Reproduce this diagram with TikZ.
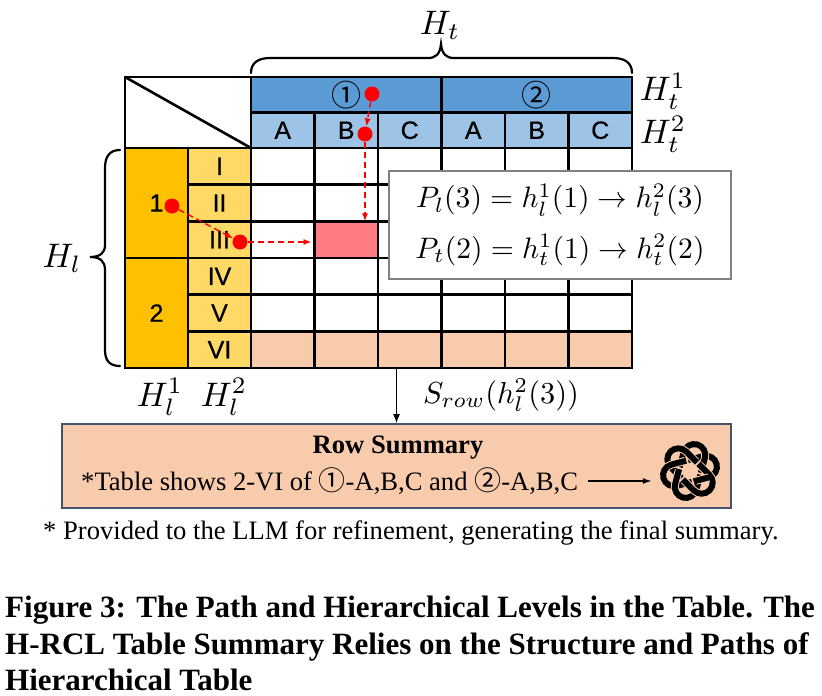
\documentclass[tikz,border=0pt]{standalone}
\usepackage{fontspec}
\setmainfont{Liberation Serif}
\newfontfamily\labfont[FakeBold=0.7]{Liberation Sans}
\newfontfamily\symfont{Noto Sans CJK SC}
\usetikzlibrary{arrows.meta}
\definecolor{hdA}{HTML}{5B9BD5}
\definecolor{hdB}{HTML}{9DC3E6}
\definecolor{lfA}{HTML}{FFC000}
\definecolor{lfB}{HTML}{FFD966}
\definecolor{rowp}{HTML}{F8CBAD}
\definecolor{pinkc}{HTML}{FF7C80}
\definecolor{boxedge}{HTML}{44546A}
\newcommand{\sz}[1]{\fontsize{#1}{#1}\selectfont}
\newcommand{\mth}[2]{\scalebox{#1}{$#2$}}
\tikzset{
  x=1pt,y=-1pt,
  cellbox/.style={draw=black,line width=2.4pt,inner sep=0pt,outer sep=0pt,font=\labfont\sz{25}},
  mathlab/.style={inner sep=0pt},
  reddot/.style={circle,fill=red,inner sep=0pt,minimum size=15pt},
  redarrow/.style={red,dash pattern=on 6pt off 4pt,line width=1.4pt,-{Latex[length=8pt,width=6pt]}},
  brace/.style={line width=2.2pt,line cap=round},
  captionline/.style={anchor=base west,inner sep=0pt,font=\sz{31}\bfseries},
}
\begin{document}
\begin{tikzpicture}
\useasboundingbox (0,0) rectangle (822,696);
% corner
\node[cellbox,minimum width=126pt,minimum height=71pt,fill=white] (corner) at (188,112.5) {};
\draw[line width=2.6pt] (corner.north west) -- (corner.south east);
% top headers
\node[cellbox,fill=hdA,minimum width=190.5pt,minimum height=35.5pt] (t1) at (346.25,94.75) {\symfont\sz{30}①};
\node[cellbox,fill=hdA,minimum width=190.5pt,minimum height=35.5pt] (t2) at (536.75,94.75) {\symfont\sz{30}②};
\foreach \c [count=\i] in {A,B,C,A,B,C}{
  \node[cellbox,fill=hdB,minimum width=63.5pt,minimum height=35.5pt] (s\i) at ({282.75+63.5*(\i-1)},130.25) {\c};
}
% left headers
\node[cellbox,fill=lfA,minimum width=63pt,minimum height=110pt] (l1) at (156.5,203) {1};
\node[cellbox,fill=lfA,minimum width=63pt,minimum height=110pt] (l2) at (156.5,313) {2};
\foreach \t [count=\i] in {I,II,III,IV,V,VI}{
  \node[cellbox,fill=lfB,minimum width=63pt,minimum height=36.67pt] (r\i) at (219.5,{148+36.67*(\i-0.5)}) {\t};
}
% body
\foreach \r in {1,...,6}{
  \foreach \c in {1,...,6}{
    \def\cf{white}
    \ifnum\r=6 \def\cf{rowp}\fi
    \ifnum\r=3 \ifnum\c=2 \def\cf{pinkc}\fi\fi
    \node[cellbox,fill=\cf,minimum width=63.5pt,minimum height=36.67pt] (c\c-\r) at ({282.75+63.5*(\c-1)},{148+36.67*(\r-0.5)}) {};
  }
}
% path box
\node[draw=black!50,line width=2.2pt,fill=white,minimum width=342pt,minimum height=108pt,inner sep=0pt] (paths) at (560,225) {};
\node[mathlab] (f1) at (560,200) {\mth{2.96}{P_l(3)=h_l^1(1)\rightarrow h_l^2(3)}};
\node[mathlab] (f2) at (560,250) {\mth{2.96}{P_t(2)=h_t^1(1)\rightarrow h_t^2(2)}};
% red paths
\node[reddot] (d1) at (372,94) {};
\node[reddot] (d2) at (365,134) {};
\node[reddot] (d3) at (172,206) {};
\node[reddot] (d4) at (240,242) {};
\draw[redarrow] (d1) -- (d2);
\draw[redarrow] (d2) -- (d2 |- c2-3.north);
\draw[redarrow] (d3) -- (d4);
\draw[redarrow] (d4) -- ([xshift=-3pt]c2-3.west |- d4);
% braces
\draw[brace] (251,73) .. controls (251,63) and (258,58) .. (270,58) -- (428,58) .. controls (436,58) and (440,54) .. (441,44) .. controls (442,54) and (446,58) .. (454,58) -- (613,58) .. controls (625,58) and (632,63) .. (632,73);
\draw[brace] (120,150) .. controls (110,150) and (105,156) .. (105,168) -- (105,245) .. controls (105,253) and (100,257) .. (90,257) .. controls (100,257) and (105,261) .. (105,270) -- (105,350) .. controls (105,361) and (110,366) .. (120,366);
% math labels
\node[mathlab] (Ht) at (440,25) {\mth{3.4}{H_t}};
\node[mathlab] (Ht1) at (663,91) {\mth{3.4}{H_t^1}};
\node[mathlab] (Ht2) at (663,134) {\mth{3.4}{H_t^2}};
\node[mathlab] (Hl) at (62,258) {\mth{3.4}{H_l}};
\node[mathlab] (Hl1) at (160,397) {\mth{3.4}{H_l^1}};
\node[mathlab] (Hl2) at (224,397) {\mth{3.4}{H_l^2}};
\node[mathlab] (Srow) at (501,395) {\mth{3.04}{S_{row}(h_l^2(3))}};
% summary
\node[draw=boxedge,line width=1.6pt,fill=rowp,minimum width=669pt,minimum height=84pt,inner sep=0pt] (summary) at (396.5,466) {};
\draw[line width=1.5pt,-{Latex[length=9pt,width=7pt]}] (c3-6.south -| summary.north) -- (summary.north);
\node[inner sep=0pt,font=\sz{26.6}\bfseries] (rs) at (398,447.5) {Row Summary};
\node[anchor=west,inner xsep=10pt,inner ysep=0pt,font=\sz{26.6}] (tl) at (71,481) {*Table shows 2-VI of {\symfont\sz{27}①}-A,B,C and {\symfont\sz{27}②}-A,B,C};
\node[circle,minimum size=76pt,inner sep=0pt] (logo) at (690,471) {};
\draw[line width=1.5pt,-{Latex[length=9pt,width=6pt]}] (tl.east) -- (tl.east -| logo.west);
\foreach \a in {0,60,...,300}{
  \begin{scope}[shift={(logo.center)},rotate=\a+15]
    \draw[rowp,line width=8pt] (2,-11) -- (16.5,-11) arc[start angle=-90,end angle=90,radius=11] -- (2,11);
    \draw[black,line width=6pt] (1,-11) -- (16.5,-11) arc[start angle=-90,end angle=90,radius=11] -- (1,11);
  \end{scope}
}
\begin{scope}[shift={(logo.center)},rotate=15]
  \draw[rowp,line width=8pt] (3,11) -- (16.5,11);
  \draw[black,line width=6pt] (1,11) -- (17,11);
\end{scope}
% note
\node[anchor=base west,inner sep=0pt,font=\sz{26.6}] (note) at (43,539) {* Provided to the LLM for refinement, generating the final summary.};
% caption
\node[captionline] (cap1) at (5,617) {Figure 3: The Path and Hierarchical Levels in the Table. The};
\node[captionline] (cap2) at (5,654) {H-RCL Table Summary Relies on the Structure and Paths of};
\node[captionline] (cap3) at (5,690) {Hierarchical Table};
\end{tikzpicture}
\end{document}
